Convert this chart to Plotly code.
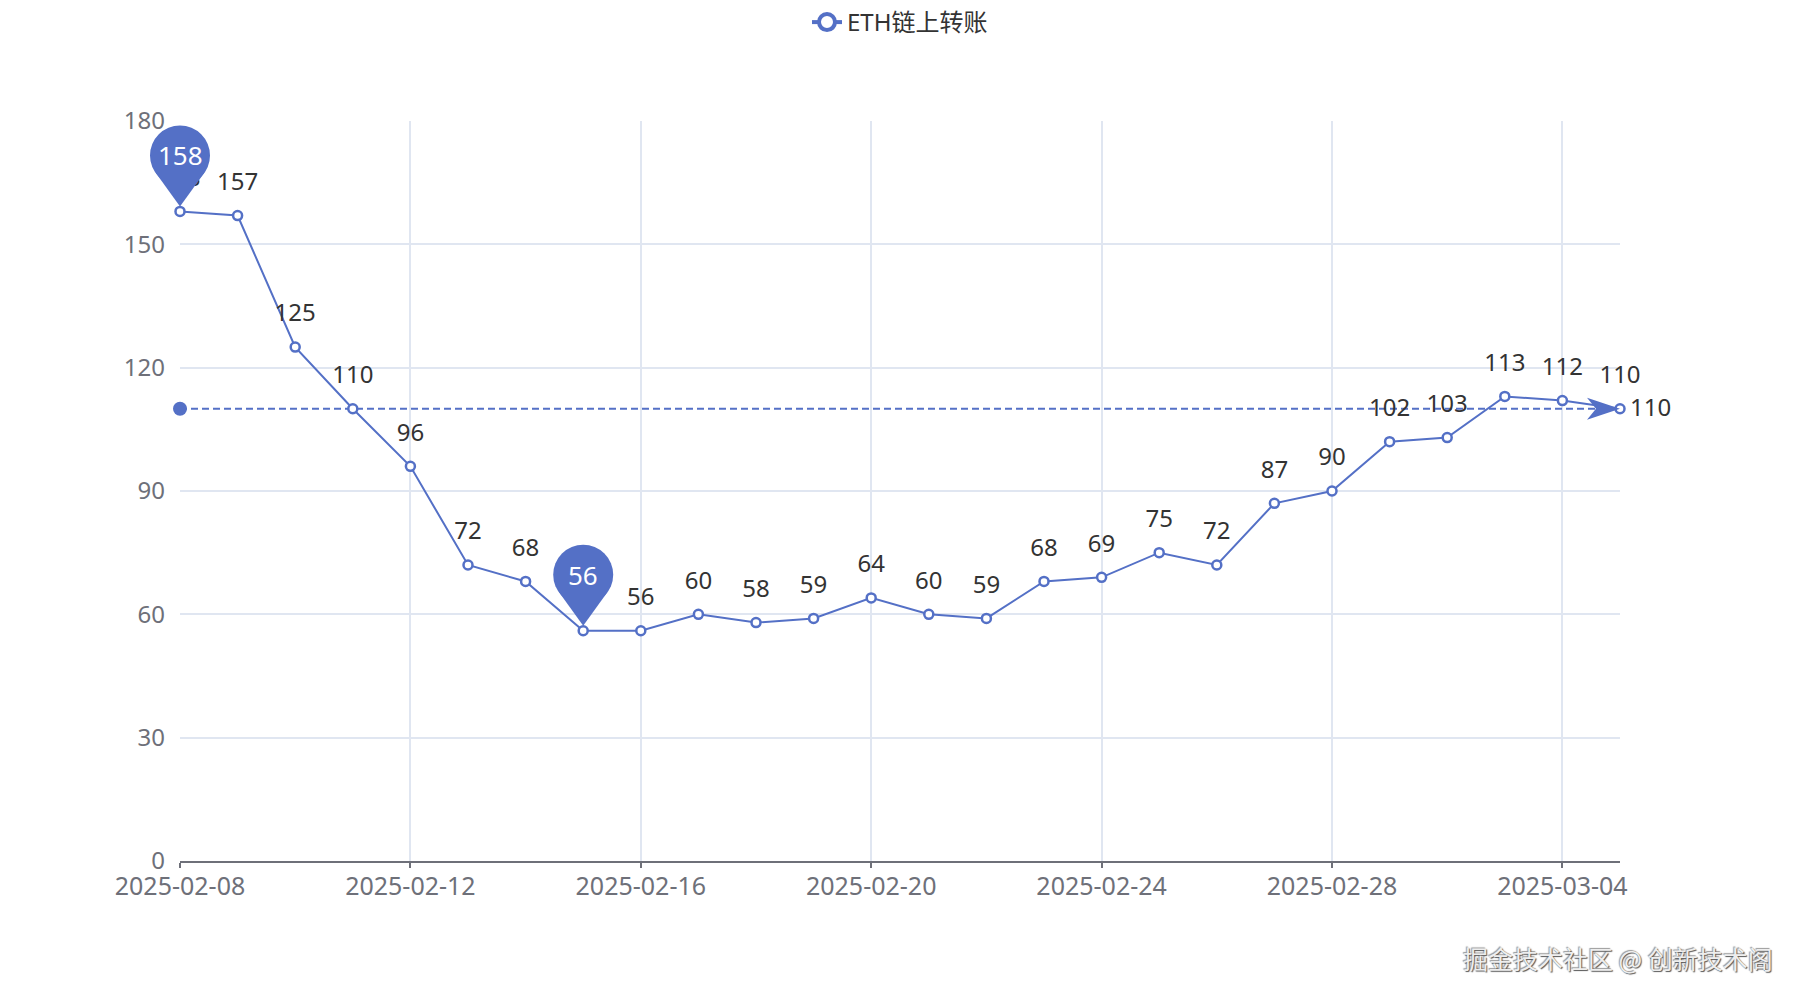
import plotly.graph_objects as go
import pandas as pd

dates = ["2025-02-08", "2025-02-09", "2025-02-10", "2025-02-11", "2025-02-12", "2025-02-13",
         "2025-02-14", "2025-02-15", "2025-02-16", "2025-02-17", "2025-02-18", "2025-02-19",
         "2025-02-20", "2025-02-21", "2025-02-22", "2025-02-23", "2025-02-24", "2025-02-25",
         "2025-02-26", "2025-02-27", "2025-02-28", "2025-03-01", "2025-03-02", "2025-03-03",
         "2025-03-04", "2025-03-05"]
values = [158, 157, 125, 110, 96, 72, 68, 56, 56, 60, 58, 59, 64, 60, 59, 68, 69, 75, 72,
          87, 90, 102, 103, 113, 112, 110]
series_name = "ETH链上转账"
mark_line_value = 110
watermark = "掘金技术社区 @ 创新技术阁"
y_min, y_max, y_step = 0, 180, 30

COLOR = "#5470c6"
FONT = "Noto Sans, Noto Sans CJK SC, sans-serif"
AXIS_LABEL = "#6E7079"
GRID = "#E0E6F1"
FS = 24

t0, t1 = pd.Timestamp(dates[0]), pd.Timestamp(dates[-1])


def px_x(d):
    return (pd.Timestamp(d) - t0) / (t1 - t0)


def px_y(v):
    return (v - y_min) / (y_max - y_min)


fig = go.Figure()

# mark line (dashed) with start circle
fig.add_trace(go.Scatter(
    x=[dates[0], dates[-1]], y=[mark_line_value, mark_line_value],
    mode="lines", line=dict(color=COLOR, width=2, dash="7px,4px"),
    showlegend=False, hoverinfo="skip", cliponaxis=False))
fig.add_trace(go.Scatter(
    x=[dates[0]], y=[mark_line_value], mode="markers",
    marker=dict(color=COLOR, size=14, line=dict(width=0)),
    showlegend=False, hoverinfo="skip", cliponaxis=False))

# main series
fig.add_trace(go.Scatter(
    x=dates, y=values, name=series_name, mode="lines+markers",
    line=dict(color=COLOR, width=2),
    marker=dict(symbol="circle", size=9, color="white", line=dict(color=COLOR, width=2.5)),
    showlegend=False, cliponaxis=False,
))
# value labels (offset via invisible marker radius)
fig.add_trace(go.Scatter(
    x=dates, y=values, mode="markers+text",
    text=[str(v) for v in values], textposition="top center",
    textfont=dict(size=FS, color="#333333", family=FONT),
    marker=dict(size=30, opacity=0),
    showlegend=False, hoverinfo="skip", cliponaxis=False,
))
# legend entry
fig.add_trace(go.Scatter(
    x=[None], y=[None], name=series_name, mode="lines+markers",
    line=dict(color=COLOR, width=4),
    marker=dict(symbol="circle", size=20, color="white", line=dict(color=COLOR, width=4)),
))

shapes = []
annotations = []

# arrow at end of mark line
shapes.append(dict(
    type="path", xref="paper", yref="paper", xsizemode="pixel", ysizemode="pixel",
    xanchor=px_x(dates[-1]), yanchor=px_y(mark_line_value),
    path="M 0,0 L -33,11 L -24,0 L -33,-11 Z",
    fillcolor=COLOR, line=dict(width=0), layer="above"))
annotations.append(dict(
    x=dates[-1], y=mark_line_value, text=str(mark_line_value), showarrow=False,
    xanchor="left", xshift=8, yshift=2, font=dict(size=FS, color="#333333", family=FONT)))

# pins for max and min
for idx in [values.index(max(values)), values.index(min(values))]:
    d, v = dates[idx], values[idx]
    shapes.append(dict(
        type="circle", xref="paper", yref="paper", xsizemode="pixel", ysizemode="pixel",
        xanchor=px_x(d), yanchor=px_y(v), x0=-30, x1=30, y0=26, y1=86,
        fillcolor=COLOR, line=dict(width=0), layer="above"))
    shapes.append(dict(
        type="path", xref="paper", yref="paper", xsizemode="pixel", ysizemode="pixel",
        xanchor=px_x(d), yanchor=px_y(v),
        path="M 0,5 L 24.5,39 L -24.5,39 Z",
        fillcolor=COLOR, line=dict(width=0), layer="above"))
    annotations.append(dict(
        x=d, y=v, text=str(v), showarrow=False, yshift=56,
        font=dict(size=26, color="white", family=FONT)))

# watermark
annotations.append(dict(
    xref="paper", yref="paper", x=1.0, y=0, xanchor="right", yanchor="middle",
    xshift=155, yshift=-97, text=watermark, showarrow=False,
    font=dict(size=25, color="#eeeeee", family="Noto Sans CJK SC",
              shadow="1px 1px 1px #555, -1px -1px 1px #999")))

fig.update_layout(
    width=1800, height=1000,
    paper_bgcolor="white", plot_bgcolor="white",
    margin=dict(l=180, r=180, t=121, b=139),
    font=dict(family=FONT, size=FS, color=AXIS_LABEL),
    showlegend=True,
    legend=dict(orientation="h", x=0.5, xanchor="center", y=1, yref="container",
                yanchor="top", font=dict(size=FS, color="#333333", family=FONT),
                bgcolor="rgba(0,0,0,0)"),
    shapes=shapes, annotations=annotations,
    xaxis=dict(
        type="date", range=[dates[0], dates[-1]],
        tick0=dates[0], dtick=4 * 86400000, tickformat="%Y-%m-%d",
        showgrid=True, gridcolor=GRID, gridwidth=1.5,
        showline=True, linecolor=AXIS_LABEL, linewidth=2,
        ticks="outside", ticklen=5, tickcolor=AXIS_LABEL, tickwidth=2,
        ticklabelstandoff=-3,
        tickfont=dict(size=25, color=AXIS_LABEL, family=FONT),
        zeroline=False, fixedrange=True),
    yaxis=dict(
        range=[y_min, y_max], dtick=y_step, showgrid=True, gridcolor=GRID, gridwidth=1.5,
        showline=False, zeroline=False, ticks="", ticklabelstandoff=14,
        tickfont=dict(size=FS, color=AXIS_LABEL, family=FONT), fixedrange=True),
)

fig.write_html("out.html")
